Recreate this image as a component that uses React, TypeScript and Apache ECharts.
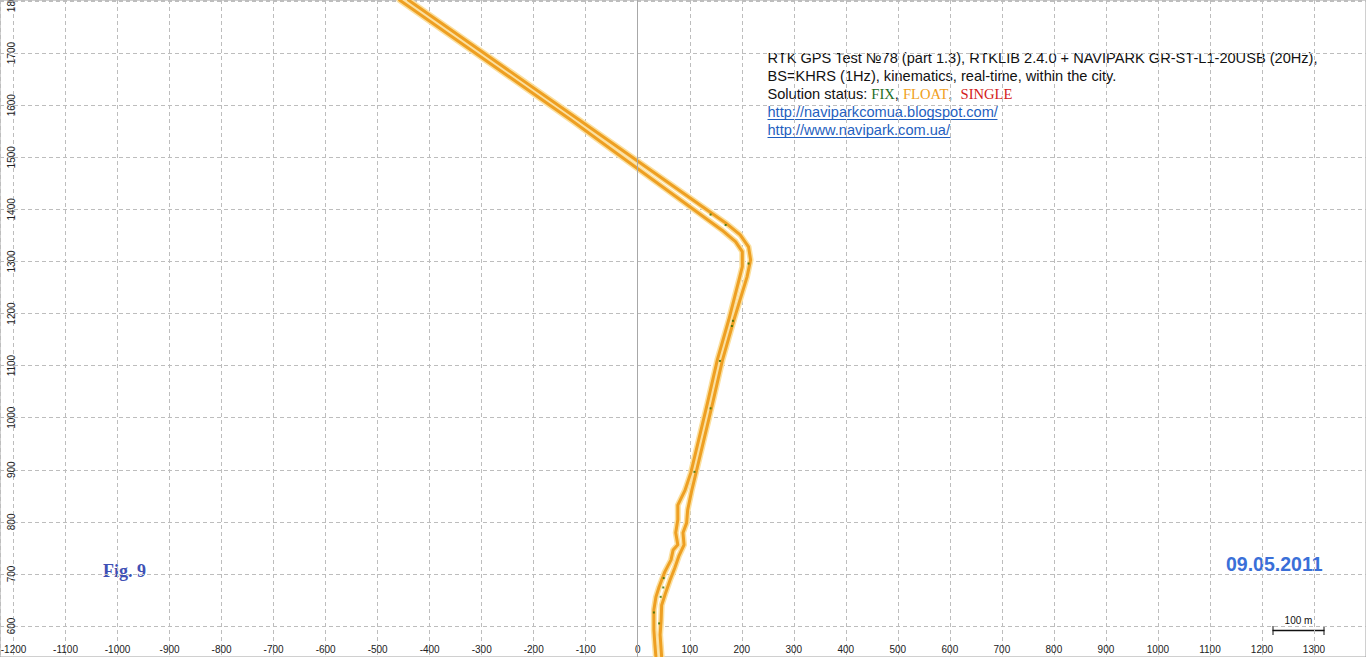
import React, { useEffect, useRef } from "react";
import * as echarts from "echarts";

// Axis extents (metres) visible in the frame
const X_MIN = -1226;
const X_MAX = 1400;
const Y_MIN = 540.5;
const Y_MAX = 1802;
const TICK_STEP = 100;

// Outbound track (outer / right-hand line)
const trackOut: [number, number][] = [
  [-441, 1802], [-113, 1572], [169, 1374], [197, 1351], [213, 1328], [217, 1303],
  [210, 1270], [185, 1188], [163, 1111], [144, 1028], [112, 894], [104, 861],
  [96, 823], [94, 798], [87, 779], [89, 756], [79, 734], [71, 711], [62, 688],
  [54, 665], [46, 640], [45, 612], [43, 583], [46, 540],
];

// Return track (inner / left-hand line)
const trackBack: [number, number][] = [
  [-458, 1802], [-129, 1572], [162, 1360], [188, 1338], [201, 1319], [201, 1290],
  [196, 1270], [175, 1188], [153, 1111], [134, 1028], [102, 894], [91, 861],
  [77, 832], [77, 804], [73, 779], [77, 756], [68, 746], [64, 727], [52, 704],
  [41, 675], [35, 656], [31, 631], [31, 592], [33, 564], [35, 540],
];

// FIX solution epochs
const fixPoints: [number, number][] = [
  [140, 1390], [169, 1370], [213, 1296], [183, 1186], [181, 1176], [158, 1109],
  [140, 1018], [109, 896], [50, 692], [49, 674], [44, 656], [31, 626], [41, 605],
];

const titleLine1 = "RTK GPS Test №78 (part 1.3), RTKLIB 2.4.0 + NAVIPARK GR-ST-L1-20USB (20Hz),";
const titleLine2 = "BS=KHRS (1Hz), kinematics, real-time, within the city.";
const statusLabel = "Solution status: ";
const statusNames = ["FIX", "FLOAT", "SINGLE"];
const links = ["http://naviparkcomua.blogspot.com/", "http://www.navipark.com.ua/"];
const figLabel = "Fig. 9";
const dateLabel = "09.05.2011";
const scaleLabel = "100 m";

const ORANGE = "#EE9F22";
const HALO = "#FBE0A0";
const TXT = "14.6px 'Liberation Sans'";
const SERIF = "14.6px 'Liberation Serif'";

export default function App() {
  const ref = useRef<HTMLDivElement>(null);
  useEffect(() => {
    if (!ref.current) return;
    const chart = echarts.init(ref.current, undefined, { renderer: "svg" });
    const axisFont = { fontFamily: "Liberation Sans", fontSize: 10, color: "#222", formatter: (v: number) => String(v) };
    const split = { show: true, lineStyle: { color: "#bdbdbd", type: [4, 3], width: 1 } };
    const lineSeries = (data: [number, number][], color: string, width: number, z: number) => ({
      type: "line",
      data,
      showSymbol: false,
      symbol: "none",
      lineStyle: { color, width, cap: "round", join: "round" },
      z,
      silent: true,
    });
    chart.setOption({
      animation: false,
      backgroundColor: "#fff",
      grid: {
        left: 0, right: 0, top: 0, bottom: 0,
        outerBoundsMode: "none",
        containLabel: false,
        show: true, borderColor: "#a0a0a0", borderWidth: 1,
      },
      xAxis: {
        type: "value",
        min: X_MIN,
        max: X_MAX,
        minInterval: TICK_STEP,
        maxInterval: TICK_STEP,
        axisLine: { show: false },
        axisTick: { show: false },
        axisLabel: { ...axisFont, inside: true, margin: 3, showMinLabel: false, showMaxLabel: false },
        splitLine: split,
      },
      yAxis: {
        type: "value",
        min: Y_MIN,
        max: Y_MAX,
        minInterval: TICK_STEP,
        maxInterval: TICK_STEP,
        axisLine: { show: false },
        axisTick: { show: false },
        axisLabel: { ...axisFont, inside: true, rotate: 90, margin: 6, showMinLabel: false, showMaxLabel: false },
        splitLine: split,
      },
      series: [
        {
          ...lineSeries(trackOut, HALO, 6, 1),
          markLine: {
            silent: true,
            symbol: "none",
            label: { show: false },
            lineStyle: { color: "#a8a8a8", type: "solid", width: 1 },
            data: [{ xAxis: 0 }, { yAxis: 0 }],
          },
        },
        lineSeries(trackBack, HALO, 6, 1),
        lineSeries(trackOut, ORANGE, 3, 2),
        lineSeries(trackBack, ORANGE, 3, 2),
        {
          type: "scatter",
          data: fixPoints,
          symbol: "rect",
          symbolSize: 2,
          itemStyle: { color: "#2f6b00" },
          z: 3,
          silent: true,
        },
      ],
      graphic: [
        {
          type: "group",
          left: 765,
          top: 50,
          children: [
            { type: "text", x: 0, y: 0, style: { text: titleLine1, font: TXT, fill: "#111" } },
            { type: "text", x: 0, y: 18, style: { text: titleLine2, font: TXT, fill: "#111" } },
            {
              type: "text",
              x: 0,
              y: 36,
              style: {
                text: `{n|${statusLabel}}{fix|${statusNames[0]}}{n|, }{float|${statusNames[1]}}{n|,  }{single|${statusNames[2]}}`,
                rich: {
                  n: { font: TXT, fill: "#111" },
                  fix: { font: SERIF, fill: "#1f6e1f" },
                  float: { font: SERIF, fill: "#F0A020" },
                  single: { font: SERIF, fill: "#D42020" },
                },
              },
            },
            { type: "text", x: 0, y: 54, style: { text: links[0], font: TXT, fill: "#1f5fc0" } },
            { type: "line", shape: { x1: 0, y1: 69.5, x2: 230, y2: 69.5 }, style: { stroke: "#1f5fc0", lineWidth: 1 } },
            { type: "text", x: 0, y: 72, style: { text: links[1], font: TXT, fill: "#1f5fc0" } },
            { type: "line", shape: { x1: 0, y1: 87.5, x2: 183, y2: 87.5 }, style: { stroke: "#1f5fc0", lineWidth: 1 } },
          ],
        },
        {
          type: "text",
          left: 103,
          top: 562,
          style: { text: figLabel, font: "bold 18px 'Liberation Serif'", fill: "#3F51B5" },
        },
        {
          type: "text",
          left: 1226,
          top: 554,
          style: { text: dateLabel, font: "bold 19.5px 'Liberation Sans'", fill: "#3A6FD8" },
        },
        {
          type: "group",
          left: 1270,
          top: 615,
          children: [
            { type: "text", x: 26, y: 0, style: { text: scaleLabel, font: "10px 'Liberation Sans'", fill: "#111", align: "center" } },
            { type: "line", shape: { x1: 0, y1: 15.5, x2: 52, y2: 15.5 }, style: { stroke: "#111", lineWidth: 1.5 } },
            { type: "line", shape: { x1: 0.5, y1: 11, x2: 0.5, y2: 20 }, style: { stroke: "#111", lineWidth: 1 } },
            { type: "line", shape: { x1: 51.5, y1: 11, x2: 51.5, y2: 20 }, style: { stroke: "#111", lineWidth: 1 } },
          ],
        },
      ],
    });
    return () => chart.dispose();
  }, []);
  return (
    <div
      ref={ref}
      style={{ position: "absolute", left: 0, top: 0, width: 1366, height: 657 }}
    />
  );
}
